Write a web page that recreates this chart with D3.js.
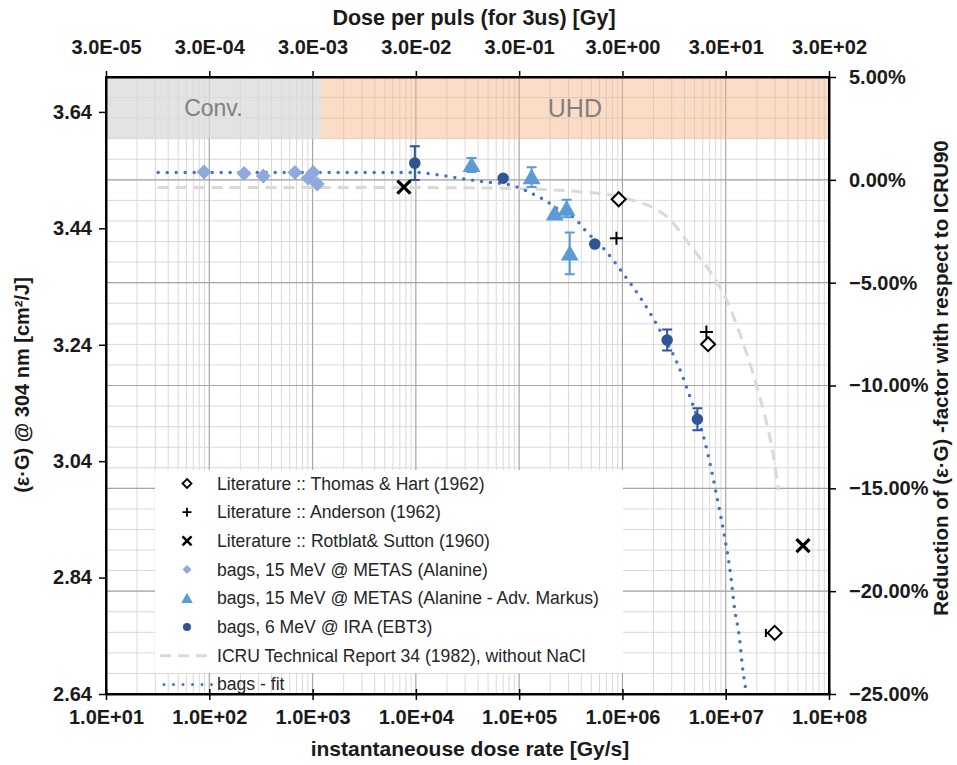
<!DOCTYPE html>
<html>
<head>
<meta charset="utf-8">
<script src="https://cdn.jsdelivr.net/npm/d3@7"></script>
<style>
  body { margin: 0; background: #fff; }
  text { font-family: "Liberation Sans", Arial, sans-serif; }
</style>
</head>
<body>
<svg id="chart" width="957" height="765"></svg>
<script>
// values (x = instantaneous dose rate in Gy/s, y = eps*G)
const thomasX = [9.2e5, 6.75e6, 2.98e7];
const thomasY = [3.490, 3.241, 2.745];
const thomasXLow = [null, null, 2.45e7];

const andersonX = [8.75e5, 6.5e6];
const andersonY = [3.423, 3.262];

const rotblatX = [7.66e3, 5.6e7];
const rotblatY = [3.511, 2.895];

const alanineX = [89, 217, 333, 675, 1014, 907, 1109];
const alanineY = [3.537, 3.534, 3.530, 3.536, 3.536, 3.526, 3.516];

const markusX = [3.46e4, 1.32e5, 2.21e5, 2.88e5, 3.09e5];
const markusY = [3.549, 3.528, 3.466, 3.474, 3.397];
const markusErr = [0.012, 0.017, 0, 0.015, 0.036];

const iraX = [9.77e3, 7.0e4, 5.4e5, 2.71e6, 5.32e6];
const iraY = [3.552, 3.526, 3.413, 3.248, 3.112];
const iraErr = [0.029, 0, 0, 0.018, 0.019];

const icruX = [31.6, 1e4, 6.3e4, 1.58e5, 3.9e5, 9.3e5, 2.7e6, 4.5e6, 7.6e6, 1.02e7, 1.38e7, 2.0e7, 2.9e7, 3.25e7];
const icruY = [3.510, 3.510, 3.509, 3.507, 3.503, 3.494, 3.460, 3.411, 3.357, 3.317, 3.257, 3.168, 3.048, 2.990];

const fitX = [32, 9.8e3, 1.46e4, 3.1e4, 4.48e4, 8.4e4, 1.22e5, 1.71e5, 2.48e5, 3.46e5, 4.49e5, 6.75e5,
  1.01e6, 1.58e6, 2.39e6, 3.46e6, 4.56e6, 6.27e6, 8.43e6, 9.79e6, 1.11e7, 1.22e7, 1.35e7, 1.47e7, 1.56e7, 1.64e7];
const fitY = [3.536, 3.536, 3.533, 3.524, 3.520, 3.514, 3.503, 3.490, 3.471, 3.457, 3.434, 3.403,
  3.363, 3.314, 3.260, 3.205, 3.148, 3.074, 2.969, 2.908, 2.848, 2.786, 2.740, 2.679, 2.647, 2.600];

const bottomTicks = [1e1, 1e2, 1e3, 1e4, 1e5, 1e6, 1e7, 1e8];
const topTickLabels = ["3.0E-05", "3.0E-04", "3.0E-03", "3.0E-02", "3.0E-01", "3.0E+00", "3.0E+01", "3.0E+02"];
const leftTicks = [2.64, 2.84, 3.04, 3.24, 3.44, 3.64];
const rightTicks = [-0.25, -0.20, -0.15, -0.10, -0.05, 0, 0.05];

const convLimit = 1.2e3;   // Conv. / UHD border
const bandBottom = 0.02;   // shaded band from 2% to 5%

const legendNames = [
  "Literature :: Thomas & Hart (1962)",
  "Literature :: Anderson (1962)",
  "Literature :: Rotblat& Sutton (1960)",
  "bags, 15 MeV @ METAS (Alanine)",
  "bags, 15 MeV @ METAS (Alanine - Adv. Markus)",
  "bags, 6 MeV @ IRA (EBT3)",
  "ICRU Technical Report 34 (1982), without NaCl",
  "bags - fit"
];

const cAlanine = "#8eaadb", cMarkus = "#5b9bd5", cIra = "#2f5597", cFit = "#4472c4", cIcru = "#d9d9d9";

const margin = {top: 77, right: 128, bottom: 71, left: 106};
const width = 829 - margin.left;
const height = 694 - margin.top;

const svg = d3.select("#chart")
  .append("g")
  .attr("transform", "translate(" + margin.left + "," + margin.top + ")");

const x = d3.scaleLog().domain([1e1, 1e8]).range([0, width]);
const y = d3.scaleLinear().domain([2.64, 3.70]).range([height, 0]);
const y2 = d3.scaleLinear().domain([-0.25, 0.05]).range([height, 0]);

svg.append("defs").append("clipPath").attr("id", "plotClip")
  .append("rect").attr("width", width).attr("height", height);

// grid
const minorX = [];
for (let e = 1; e < 8; e++) for (let m = 2; m <= 9; m++) minorX.push(m * Math.pow(10, e));
const minorY = d3.range(-25, 6).map(d => d / 100);

const grid = svg.append("g");
grid.selectAll("line.mx").data(minorX).enter().append("line")
  .attr("x1", d => x(d)).attr("x2", d => x(d)).attr("y1", 0).attr("y2", height)
  .attr("stroke", "#d9d9d9").attr("stroke-width", 1);
grid.selectAll("line.my").data(minorY).enter().append("line")
  .attr("y1", d => y2(d)).attr("y2", d => y2(d)).attr("x1", 0).attr("x2", width)
  .attr("stroke", "#d9d9d9").attr("stroke-width", 1);
grid.selectAll("line.Mx").data(bottomTicks).enter().append("line")
  .attr("x1", d => x(d)).attr("x2", d => x(d)).attr("y1", 0).attr("y2", height)
  .attr("stroke", "#a6a6a6").attr("stroke-width", 1.2);
grid.selectAll("line.My").data(rightTicks).enter().append("line")
  .attr("y1", d => y2(d)).attr("y2", d => y2(d)).attr("x1", 0).attr("x2", width)
  .attr("stroke", "#a6a6a6").attr("stroke-width", 1.2);

// shaded bands
svg.append("rect")
  .attr("x", 0).attr("y", y2(0.05))
  .attr("width", x(convLimit)).attr("height", y2(bandBottom) - y2(0.05))
  .attr("fill", "#d9d9d9").attr("fill-opacity", 0.75);
svg.append("rect")
  .attr("x", x(convLimit)).attr("y", y2(0.05))
  .attr("width", width - x(convLimit)).attr("height", y2(bandBottom) - y2(0.05))
  .attr("fill", "#f4b183").attr("fill-opacity", 0.45);
svg.append("text")
  .attr("x", x(Math.sqrt(1e1 * convLimit))).attr("y", (y2(0.05) + y2(bandBottom)) / 2 + 8)
  .attr("text-anchor", "middle").attr("font-size", "23px").attr("fill", "#808080")
  .text("Conv.");
svg.append("text")
  .attr("x", x(Math.sqrt(convLimit * 1e8))).attr("y", (y2(0.05) + y2(bandBottom)) / 2 + 9)
  .attr("text-anchor", "middle").attr("font-size", "25px").attr("fill", "#808080")
  .text("UHD");

// lines
const lineGen = d3.line().x(d => x(d[0])).y(d => y(d[1])).curve(d3.curveMonotoneX);
const plot = svg.append("g").attr("clip-path", "url(#plotClip)");
plot.append("path")
  .attr("d", lineGen(d3.zip(icruX, icruY)))
  .attr("fill", "none").attr("stroke", cIcru).attr("stroke-width", 3)
  .attr("stroke-dasharray", "11,7");
plot.append("path")
  .attr("d", lineGen(d3.zip(fitX, fitY)))
  .attr("fill", "none").attr("stroke", cFit).attr("stroke-width", 3.5)
  .attr("stroke-linecap", "round").attr("stroke-dasharray", "0,9");

// marker shapes
function diamond(s) { return "M0," + (-s) + "L" + s + ",0L0," + s + "L" + (-s) + ",0Z"; }
function triangle(s) { return "M0," + (-s) + "L" + (s * 1.05) + "," + (s * 0.85) + "L" + (-s * 1.05) + "," + (s * 0.85) + "Z"; }
function plus(s) { return "M" + (-s) + ",0H" + s + "M0," + (-s) + "V" + s; }
function cross(s) { return "M" + (-s) + "," + (-s) + "L" + s + "," + s + "M" + s + "," + (-s) + "L" + (-s) + "," + s; }

function errorBars(xs, ys, errs, color) {
  const g = svg.append("g");
  xs.forEach((xv, i) => {
    if (!errs[i]) return;
    const px = x(xv), t = y(ys[i] + errs[i]), b = y(ys[i] - errs[i]);
    g.append("path")
      .attr("d", "M" + px + "," + t + "V" + b + "M" + (px - 5) + "," + t + "H" + (px + 5) + "M" + (px - 5) + "," + b + "H" + (px + 5))
      .attr("stroke", color).attr("stroke-width", 2).attr("fill", "none");
  });
}

function markers(xs, ys, pathStr, fill, stroke, sw) {
  svg.append("g").selectAll("path").data(d3.zip(xs, ys)).enter().append("path")
    .attr("transform", d => "translate(" + x(d[0]) + "," + y(d[1]) + ")")
    .attr("d", pathStr)
    .attr("fill", fill).attr("stroke", stroke).attr("stroke-width", sw);
}

errorBars(markusX, markusY, markusErr, cMarkus);
errorBars(iraX, iraY, iraErr, cIra);

// horizontal error bar for the last Thomas & Hart point
thomasX.forEach((xv, i) => {
  if (!thomasXLow[i]) return;
  const l = x(thomasXLow[i]), r = x(xv), py = y(thomasY[i]);
  svg.append("path")
    .attr("d", "M" + l + "," + py + "H" + r + "M" + l + "," + (py - 4) + "V" + (py + 4))
    .attr("stroke", "#000").attr("stroke-width", 2).attr("fill", "none");
});

markers(alanineX, alanineY, diamond(7.5), cAlanine, "none", 0);
markers(markusX, markusY, triangle(8.5), cMarkus, "none", 0);
markers(iraX, iraY, d3.symbol(d3.symbolCircle, 105)(), cIra, "none", 0);
markers(thomasX, thomasY, diamond(7), "#fff", "#000", 2);
markers(andersonX, andersonY, plus(6.5), "none", "#000", 2);
markers(rotblatX, rotblatY, cross(6.5), "none", "#000", 3.2);

// legend
const lg = svg.append("g").attr("transform", "translate(" + (155 - margin.left) + "," + (470 - margin.top) + ")");
lg.append("rect").attr("width", 468).attr("height", 203).attr("fill", "#fff");
const rowY = i => 13.5 + i * 28.7;
const symX = 32;
legendNames.forEach((name, i) => {
  lg.append("text").attr("x", 62).attr("y", rowY(i) + 6)
    .attr("font-size", "17.6px").attr("fill", "#262626").text(name);
});
const sym = (i, d, fill, stroke, sw) => lg.append("path")
  .attr("transform", "translate(" + symX + "," + rowY(i) + ")")
  .attr("d", d).attr("fill", fill).attr("stroke", stroke).attr("stroke-width", sw);
sym(0, diamond(4.5), "#fff", "#000", 1.8);
sym(1, plus(4.5), "none", "#000", 1.8);
sym(2, cross(4.5), "none", "#000", 2.6);
sym(3, diamond(4.5), cAlanine, "none", 0);
sym(4, triangle(5.5), cMarkus, "none", 0);
sym(5, d3.symbol(d3.symbolCircle, 50)(), cIra, "none", 0);
lg.append("line").attr("x1", 5).attr("x2", 57).attr("y1", rowY(6)).attr("y2", rowY(6))
  .attr("stroke", cIcru).attr("stroke-width", 3).attr("stroke-dasharray", "11,7");
lg.append("line").attr("x1", 9).attr("x2", 57).attr("y1", rowY(7)).attr("y2", rowY(7))
  .attr("stroke", cFit).attr("stroke-width", 3).attr("stroke-linecap", "round").attr("stroke-dasharray", "0,9.5");

// axes
const fmtBottom = d => "1.0E+" + String(Math.round(Math.log10(d))).padStart(2, "0");
const axisB = svg.append("g").attr("transform", "translate(0," + height + ")")
  .call(d3.axisBottom(x).tickValues(bottomTicks).tickFormat(fmtBottom).tickSizeInner(6).tickSizeOuter(0).tickPadding(10));
axisB.selectAll(".tick line").attr("y1", -5).attr("y2", 6);

const axisT = svg.append("g")
  .call(d3.axisTop(x).tickValues(bottomTicks).tickFormat((d, i) => topTickLabels[i]).tickSizeInner(6).tickSizeOuter(0).tickPadding(17));

const axisL = svg.append("g")
  .call(d3.axisLeft(y).tickValues(leftTicks).tickFormat(d3.format(".2f")).tickSizeInner(7).tickSizeOuter(0).tickPadding(7));

const axisR = svg.append("g").attr("transform", "translate(" + width + ",0)")
  .call(d3.axisRight(y2).tickValues(rightTicks).tickFormat(d3.format(".2%")).tickSizeInner(7).tickSizeOuter(0).tickPadding(13));

[axisB, axisT, axisL, axisR].forEach(a => {
  a.select(".domain").attr("stroke", "#000").attr("stroke-width", 2);
  a.selectAll(".tick line").attr("stroke", "#000").attr("stroke-width", 1.5);
  a.selectAll(".tick text")
    .attr("font-family", "'Liberation Sans', Arial, sans-serif")
    .attr("font-size", "20px").attr("font-weight", "bold").attr("fill", "#1a1a1a");
});
// close the frame at the ends
svg.append("rect").attr("width", width).attr("height", height)
  .attr("fill", "none").attr("stroke", "#000").attr("stroke-width", 2);

// titles
svg.append("text")
  .attr("x", 470 - margin.left).attr("y", 756 - margin.top)
  .attr("text-anchor", "middle").attr("font-size", "21px").attr("font-weight", "bold").attr("fill", "#1a1a1a")
  .text("instantaneouse dose rate [Gy/s]");
svg.append("text")
  .attr("x", 474 - margin.left).attr("y", 25 - margin.top)
  .attr("text-anchor", "middle").attr("font-size", "21.5px").attr("font-weight", "bold").attr("fill", "#1a1a1a")
  .text("Dose per puls (for 3us) [Gy]");
svg.append("text")
  .attr("transform", "translate(" + (29 - margin.left) + "," + (385 - margin.top) + ") rotate(-90)")
  .attr("text-anchor", "middle").attr("font-size", "20px").attr("font-weight", "bold").attr("fill", "#1a1a1a")
  .text("(ε·G) @ 304 nm [cm²/J]");
svg.append("text")
  .attr("transform", "translate(" + (948 - margin.left) + "," + (378 - margin.top) + ") rotate(-90)")
  .attr("text-anchor", "middle").attr("font-size", "20.5px").attr("font-weight", "bold").attr("fill", "#1a1a1a")
  .text("Reduction of (ε·G) -factor with respect to ICRU90");
</script>
</body>
</html>
